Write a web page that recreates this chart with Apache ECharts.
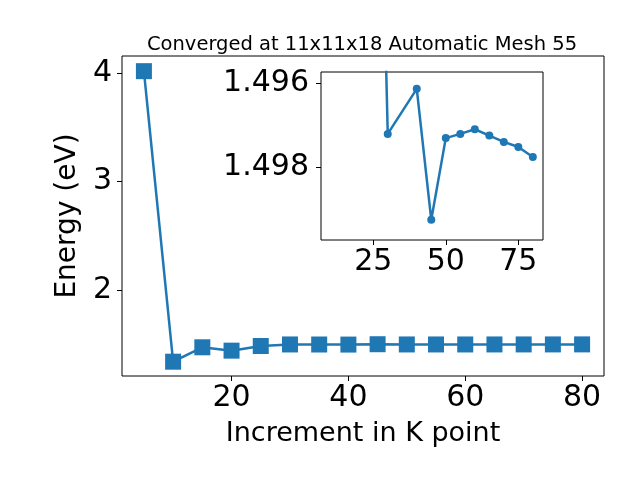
<!DOCTYPE html>
<html><head><meta charset="utf-8">
<script src="https://cdn.jsdelivr.net/npm/echarts@6/dist/echarts.min.js"></script>
<style>html,body{margin:0;padding:0;background:#fff}#c{width:640px;height:480px}</style>
</head><body><div id="c"></div>
<script>
const kPoints = [5,10,15,20,25,30,35,40,45,50,55,60,65,70,75,80];
const energy = [4.02,1.338,1.471,1.440,1.483,1.4972,1.4968,1.4961,1.4993,1.4973,1.4972,1.4971,1.4973,1.4974,1.4975,1.4978];
const insetK = [10,15,20,25,30,40,45,50,55,60,65,70,75,80];
const insetE = [1.338,1.471,1.440,1.483,1.49721,1.49614,1.49925,1.49731,1.49721,1.49710,1.49725,1.49740,1.49752,1.49776];
const mainXTicks = [20,40,60,80];
const mainYTicks = [2,3,4];
const insetXTicks = [25,50,75];
const insetYTicks = [1.496,1.498];
const titleText = 'Converged at 11x11x18 Automatic Mesh 55';
const xLabel = 'Increment in K point';
const yLabel = 'Energy (eV)';

const FONT = 'DejaVu Sans';
const C = '#1f77b4';
const TICKFS = 30;
const chart = echarts.init(document.getElementById('c'), null, {renderer:'canvas'});
const lab = (vals, fmt) => ({show:true, customValues: vals, color:'#000', fontFamily:FONT, fontSize:TICKFS, formatter: fmt});
chart.setOption({
  animation:false,
  backgroundColor:'#fff',
  title:{text:titleText, left:357, top:30, textAlign:'center',
    textStyle:{fontFamily:FONT, fontSize:19.5, fontWeight:'normal', color:'#000'}},
  grid:[
    {left:122, top:56, right:36, bottom:104, show:true, borderColor:'#000', borderWidth:1, backgroundColor:'#fff', containLabel:false},
    {left:321, top:72, width:222, height:168, show:true, borderColor:'#000', borderWidth:1, backgroundColor:'#fff', containLabel:false, z:5}
  ],
  xAxis:[
    {type:'value', gridIndex:0, min:1.25, max:83.75, splitLine:{show:false}, axisLine:{show:false},
     axisTick:{show:true, customValues:mainXTicks, length:5, lineStyle:{color:'#000'}},
     axisLabel:Object.assign(lab(mainXTicks, v=>String(v)),{margin:7}),
     name:xLabel, nameLocation:'middle', nameGap:44, nameTextStyle:{fontFamily:FONT, fontSize:27, color:'#000'}},
    {type:'value', gridIndex:1, min:7, max:83.5, splitLine:{show:false}, axisLine:{show:false}, z:6,
     axisTick:{show:true, customValues:insetXTicks, length:5, lineStyle:{color:'#000'}},
     axisLabel:Object.assign(lab(insetXTicks, v=>String(v)),{margin:7})}
  ],
  yAxis:[
    {type:'value', gridIndex:0, min:1.206, max:4.16, splitLine:{show:false}, axisLine:{show:false},
     axisTick:{show:true, customValues:mainYTicks, length:5, lineStyle:{color:'#000'}},
     axisLabel:Object.assign(lab(mainYTicks, v=>String(v)),{margin:10}),
     name:yLabel, nameLocation:'middle', nameGap:34, nameRotate:90, nameTextStyle:{fontFamily:FONT, fontSize:28, color:'#000'}},
    {type:'value', gridIndex:1, inverse:true, min:1.49574, max:1.49973, splitLine:{show:false}, axisLine:{show:false}, z:6,
     axisTick:{show:true, customValues:insetYTicks, length:5, lineStyle:{color:'#000'}},
     axisLabel:Object.assign(lab(insetYTicks, v=>v.toFixed(3)),{margin:12})}
  ],
  series:[
    {type:'line', xAxisIndex:0, yAxisIndex:0, data:kPoints.map((k,i)=>[k,energy[i]]),
     symbol:'rect', symbolSize:16, lineStyle:{color:C, width:2.5}, itemStyle:{color:C}, z:3},
    {type:'line', xAxisIndex:1, yAxisIndex:1, data:insetK.map((k,i)=>[k,insetE[i]]), clip:true,
     symbol:'circle', symbolSize:8, lineStyle:{color:C, width:2.5}, itemStyle:{color:C}, z:10}
  ]
});
</script></body></html>
